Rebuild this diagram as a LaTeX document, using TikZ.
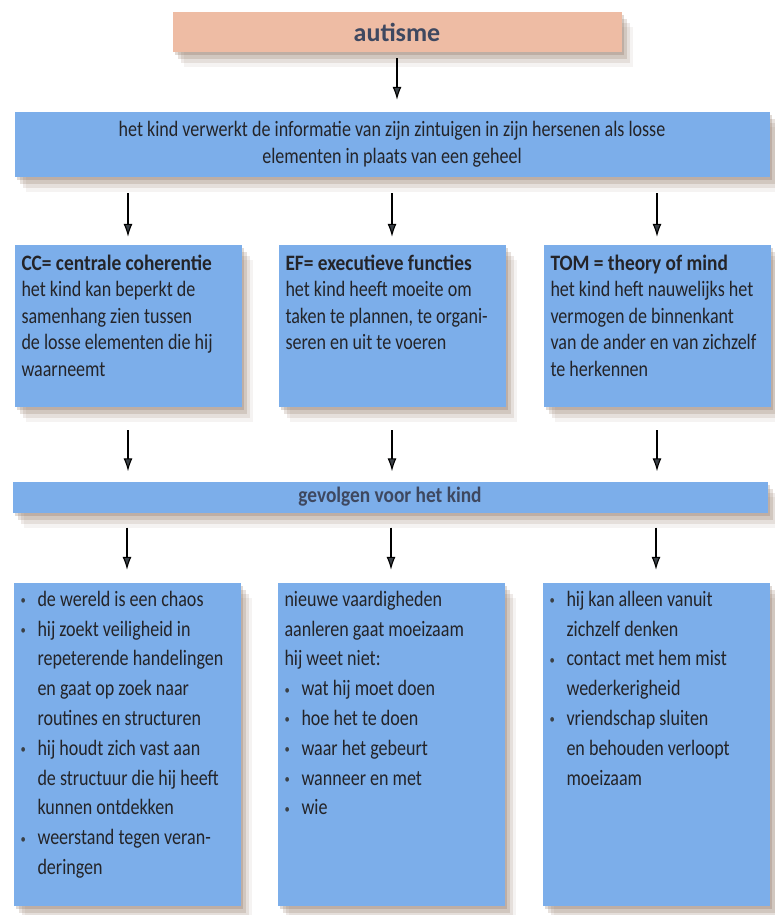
\documentclass[tikz,border=0pt]{standalone}
\usepackage{fontspec}
\setmainfont{Carlito}[FakeStretch=0.82,BoldFeatures={FakeStretch=0.88}]
\newfontfamily\titelfont{Carlito}
\usetikzlibrary{positioning,shadows,arrows.meta}

\definecolor{vakblauw}{RGB}{124,174,234}
\definecolor{zalm}{RGB}{238,188,164}
\definecolor{schaduwbruin}{RGB}{120,88,66}
\definecolor{inkt}{RGB}{36,36,40}
\definecolor{kopgrijs}{RGB}{62,72,96}
\definecolor{pijlgrijs}{RGB}{58,64,70}

\tikzset{
  schaduw/.style={
    general shadow={shadow xshift=2pt,shadow yshift=-3pt,fill=schaduwbruin,opacity=0.22},
    general shadow={shadow xshift=5pt,shadow yshift=-7pt,fill=schaduwbruin,opacity=0.18},
    general shadow={shadow xshift=8pt,shadow yshift=-11pt,fill=schaduwbruin,opacity=0.13},
    general shadow={shadow xshift=11pt,shadow yshift=-15pt,fill=schaduwbruin,opacity=0.07}},
  vak/.style={rectangle,fill=vakblauw,schaduw,text=inkt,inner xsep=7pt,inner ysep=10pt},
  balk/.style={rectangle,fill=vakblauw,schaduw,text=inkt,inner sep=0pt,align=center},
  pijl/.style={->,draw=black,line width=1.1pt}
}

\newcommand{\tekst}{\fontsize{22}{26.5}\selectfont}
\newcommand{\lijst}{\fontsize{22}{29.8}\selectfont}
\newcommand{\vlak}[3]{\parbox[c][#2][t]{#1}{\raggedright#3}}
\newcommand{\punt}{\par\hangindent=17pt\hangafter=1\noindent
  \makebox[17pt][l]{\raisebox{1.5pt}{\color{pijlgrijs}\fontsize{13}{13}\selectfont\textbullet}}}

\begin{document}
\begin{tikzpicture}[x=1pt,y=1pt,>={Latex[length=13pt,width=9pt,fill=pijlgrijs]}]
  \useasboundingbox (0,0) rectangle (774,-915);

  \node[rectangle,fill=zalm,schaduw,minimum width=449pt,minimum height=40pt,
    text=kopgrijs,font=\titelfont\bfseries\fontsize{26}{26}\selectfont] (aut) at (397,-32) {autisme};
  \node[balk,below of=aut,node distance=112.5pt,xshift=-5pt,minimum width=755pt,minimum height=65pt,
    font=\tekst] (info)
    {het kind verwerkt de informatie van zijn zintuigen in zijn hersenen als losse\\
     elementen in plaats van een geheel};

  \node[vak,below of=info,node distance=181.5pt,font=\tekst] (ef)
    {\vlak{213pt}{142pt}{\textbf{EF= executieve functies}\\
      het kind heeft moeite om\\ taken te plannen, te organi-\\ seren en uit te voeren}};
  \node[vak,left of=ef,node distance=264pt,font=\tekst] (cc)
    {\vlak{213pt}{142pt}{\textbf{CC= centrale coherentie}\\
      het kind kan beperkt de\\ samenhang zien tussen\\ de losse elementen die hij\\ waarneemt}};
  \node[vak,right of=ef,node distance=265pt,font=\tekst] (tom)
    {\vlak{213pt}{142pt}{\textbf{TOM = theory of mind}\\
      het kind heft nauwelijks het\\ vermogen de binnenkant\\ van de ander en van zichzelf\\ te herkennen}};

  \node[balk,below of=ef,node distance=171pt,xshift=-2pt,minimum width=755pt,minimum height=31pt,
    font=\tekst\bfseries,text=kopgrijs] (gev) {gevolgen voor het kind};

  \node[vak,below of=gev,node distance=247.5pt,xshift=1pt,inner ysep=8pt,font=\lijst] (g2)
    {\vlak{213pt}{307pt}{nieuwe vaardigheden\\ aanleren gaat moeizaam\\ hij weet niet:
      \punt wat hij moet doen
      \punt hoe het te doen
      \punt waar het gebeurt
      \punt wanneer en met
      \punt wie}};
  \node[vak,left of=g2,node distance=264pt,inner ysep=8pt,font=\lijst] (g1)
    {\vlak{213pt}{307pt}{\punt de wereld is een chaos
      \punt hij zoekt veiligheid in\newline repeterende handelingen\newline en gaat op zoek naar\newline routines en structuren
      \punt hij houdt zich vast aan\newline de structuur die hij heeft\newline kunnen ontdekken
      \punt weerstand tegen veran-\newline deringen}};
  \node[vak,right of=g2,node distance=265pt,inner ysep=8pt,font=\lijst] (g3)
    {\vlak{213pt}{307pt}{\punt hij kan alleen vanuit\newline zichzelf denken
      \punt contact met hem mist\newline wederkerigheid
      \punt vriendschap sluiten\newline en behouden verloopt\newline moeizaam}};

  \draw[pijl,shorten <=6pt,shorten >=12pt] (aut) -- (aut |- info.north);
  \draw[pijl,shorten <=16pt,shorten >=8pt] (info.south -| cc) -- (cc);
  \draw[pijl,shorten <=16pt,shorten >=8pt] (info.south -| ef) -- (ef);
  \draw[pijl,shorten <=16pt,shorten >=8pt] (info.south -| tom) -- (tom);
  \draw[pijl,shorten <=23pt,shorten >=10pt] (cc) -- (cc |- gev.north);
  \draw[pijl,shorten <=23pt,shorten >=10pt] (ef) -- (ef |- gev.north);
  \draw[pijl,shorten <=23pt,shorten >=10pt] (tom) -- (tom |- gev.north);
  \draw[pijl,shorten <=15pt,shorten >=13pt] (gev.south -| g1) -- (g1);
  \draw[pijl,shorten <=15pt,shorten >=13pt] (gev.south -| g2) -- (g2);
  \draw[pijl,shorten <=15pt,shorten >=13pt] (gev.south -| g3) -- (g3);
\end{tikzpicture}
\end{document}
